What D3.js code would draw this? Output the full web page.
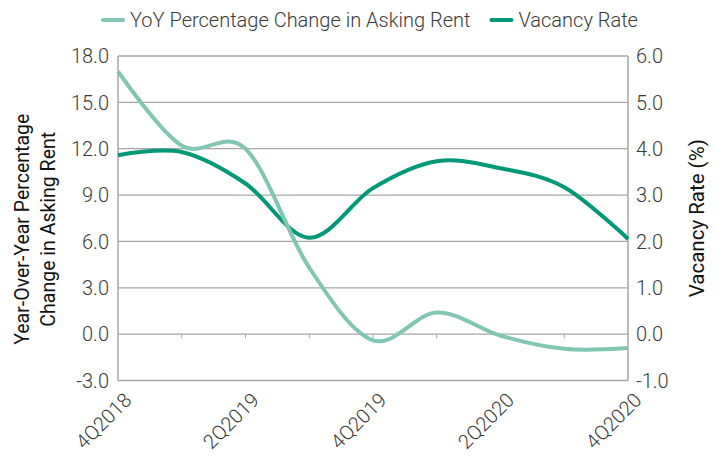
<!DOCTYPE html>
<html>
<head>
<meta charset="utf-8">
<script src="https://cdn.jsdelivr.net/npm/d3@7"></script>
<style>
  body { margin: 0; background: #fff; }
  text { font-family: Roboto, "Liberation Sans", sans-serif; }
</style>
</head>
<body>
<div id="chart"></div>
<script>
// data
const quarters = ['4Q2018', '1Q2019', '2Q2019', '3Q2019', '4Q2019', '1Q2020', '2Q2020', '3Q2020', '4Q2020'];
const rentChange = [17.0, 12.2, 12.0, 4.3, -0.4, 1.4, -0.1, -0.95, -0.9];
const vacancyRate = [3.86, 3.93, 3.25, 2.08, 3.15, 3.73, 3.58, 3.17, 2.05];
const leftTicks = [-3, 0, 3, 6, 9, 12, 15, 18];
const rightTicks = [-1, 0, 1, 2, 3, 4, 5, 6];
const labeledQuarters = ['4Q2018', '2Q2019', '4Q2019', '2Q2020', '4Q2020'];

const RENT_COLOR = '#80c6b1';
const VACANCY_COLOR = '#009877';
const GRID_COLOR = '#a6a6a6';
const LABEL_COLOR = '#3a3a3a';

const width = 715, height = 456;
const margin = { top: 56, right: 87, bottom: 75.5, left: 118 };
const innerW = width - margin.left - margin.right;
const innerH = height - margin.top - margin.bottom;

const svg = d3.select('#chart')
	.append('svg')
	.attr('width', width)
	.attr('height', height);

const g = svg.append('g')
	.attr('transform', `translate(${margin.left},${margin.top})`);

const x = d3.scalePoint()
	.domain(quarters)
	.range([0, innerW]);

const yLeft = d3.scaleLinear().domain([-3, 18]).range([innerH, 0]);
const yRight = d3.scaleLinear().domain([-1, 6]).range([innerH, 0]);

// gridlines
g.selectAll('line.grid')
	.data(leftTicks.filter(d => d !== -3))
	.enter()
	.append('line')
	.attr('class', 'grid')
	.attr('x1', 0)
	.attr('x2', innerW)
	.attr('y1', d => yLeft(d))
	.attr('y2', d => yLeft(d))
	.style('stroke', GRID_COLOR)
	.style('stroke-width', 1.3);

// small category ticks on the zero line
g.selectAll('line.qtick')
	.data(quarters.slice(1, -1))
	.enter()
	.append('line')
	.attr('class', 'qtick')
	.attr('x1', d => x(d))
	.attr('x2', d => x(d))
	.attr('y1', yLeft(0))
	.attr('y2', yLeft(0) + 4)
	.style('stroke', GRID_COLOR)
	.style('stroke-width', 1);

// frame: left, right, bottom
const frame = [
	[0, 0, 0, innerH],
	[innerW, 0, innerW, innerH],
	[0, innerH, innerW, innerH]
];
g.selectAll('line.frame')
	.data(frame)
	.enter()
	.append('line')
	.attr('x1', d => d[0]).attr('y1', d => d[1])
	.attr('x2', d => d[2]).attr('y2', d => d[3])
	.style('stroke', GRID_COLOR)
	.style('stroke-width', 1.5);

// left axis labels
g.selectAll('text.ylab')
	.data(leftTicks)
	.enter()
	.append('text')
	.attr('x', -9)
	.attr('y', d => yLeft(d))
	.attr('dy', '0.36em')
	.attr('text-anchor', 'end')
	.style('font-size', '20px')
	.style('font-weight', 300)
	.style('fill', LABEL_COLOR)
	.text(d => d.toFixed(1));

// right axis labels
g.selectAll('text.yrlab')
	.data(rightTicks)
	.enter()
	.append('text')
	.attr('x', innerW + 8)
	.attr('y', d => yRight(d))
	.attr('dy', '0.36em')
	.attr('text-anchor', 'start')
	.style('font-size', '20px')
	.style('font-weight', 300)
	.style('fill', LABEL_COLOR)
	.text(d => d.toFixed(1));

// x labels, rotated
g.selectAll('text.xlab')
	.data(labeledQuarters)
	.enter()
	.append('text')
	.attr('text-anchor', 'end')
	.attr('transform', d => `translate(${x(d) + 5},${innerH + 11}) rotate(-45)`)
	.attr('dy', '0.7em')
	.style('font-size', '20px')
	.style('font-weight', 300)
	.style('fill', LABEL_COLOR)
	.text(d => d);

// axis titles
const leftTitle = svg.append('text')
	.attr('transform', `translate(0,${margin.top + innerH / 2 + 11}) rotate(-90)`)
	.attr('text-anchor', 'middle')
	.style('font-size', '19.5px')
	.style('fill', '#111');
leftTitle.append('tspan').attr('x', 0).attr('y', 29).text('Year-Over-Year Percentage');
leftTitle.append('tspan').attr('x', 0).attr('y', 55).text('Change in Asking Rent');

svg.append('text')
	.attr('transform', `translate(${width - 11},${margin.top + innerH / 2}) rotate(-90)`)
	.attr('text-anchor', 'middle')
	.style('font-size', '20.5px')
	.style('fill', '#111')
	.text('Vacancy Rate (%)');

// lines
const smooth = d3.curveCardinal.tension(0);

const rentLine = d3.line()
	.x((d, i) => x(quarters[i]))
	.y(d => yLeft(d))
	.curve(smooth);

const vacancyLine = d3.line()
	.x((d, i) => x(quarters[i]))
	.y(d => yRight(d))
	.curve(smooth);

g.append('path')
	.datum(vacancyRate)
	.attr('d', vacancyLine)
	.style('fill', 'none')
	.style('stroke', VACANCY_COLOR)
	.style('stroke-width', 4);

g.append('path')
	.datum(rentChange)
	.attr('d', rentLine)
	.style('fill', 'none')
	.style('stroke', RENT_COLOR)
	.style('stroke-width', 4);

// legend
const legendItems = [
	{ label: 'YoY Percentage Change in Asking Rent', color: RENT_COLOR },
	{ label: 'Vacancy Rate', color: VACANCY_COLOR }
];
const legend = svg.append('g').attr('class', 'legend');
let lx = 0;
legendItems.forEach((item, i) => {
	const it = legend.append('g').attr('transform', `translate(${lx},0)`);
	it.append('line')
		.attr('x1', 0).attr('x2', 20)
		.attr('y1', 0).attr('y2', 0)
		.style('stroke', item.color)
		.style('stroke-width', 4)
		.style('stroke-linecap', 'round');
	const t = it.append('text')
		.attr('x', 27)
		.attr('dy', '0.36em')
		.style('font-size', '20px')
		.style('font-weight', 300)
		.style('fill', LABEL_COLOR)
		.text(item.label);
	lx += 27 + t.node().getComputedTextLength() + 21;
});
const legendW = lx - 21;
legend.attr('transform', `translate(${(width - legendW) / 2 + 13},20)`);
</script>
</body>
</html>
